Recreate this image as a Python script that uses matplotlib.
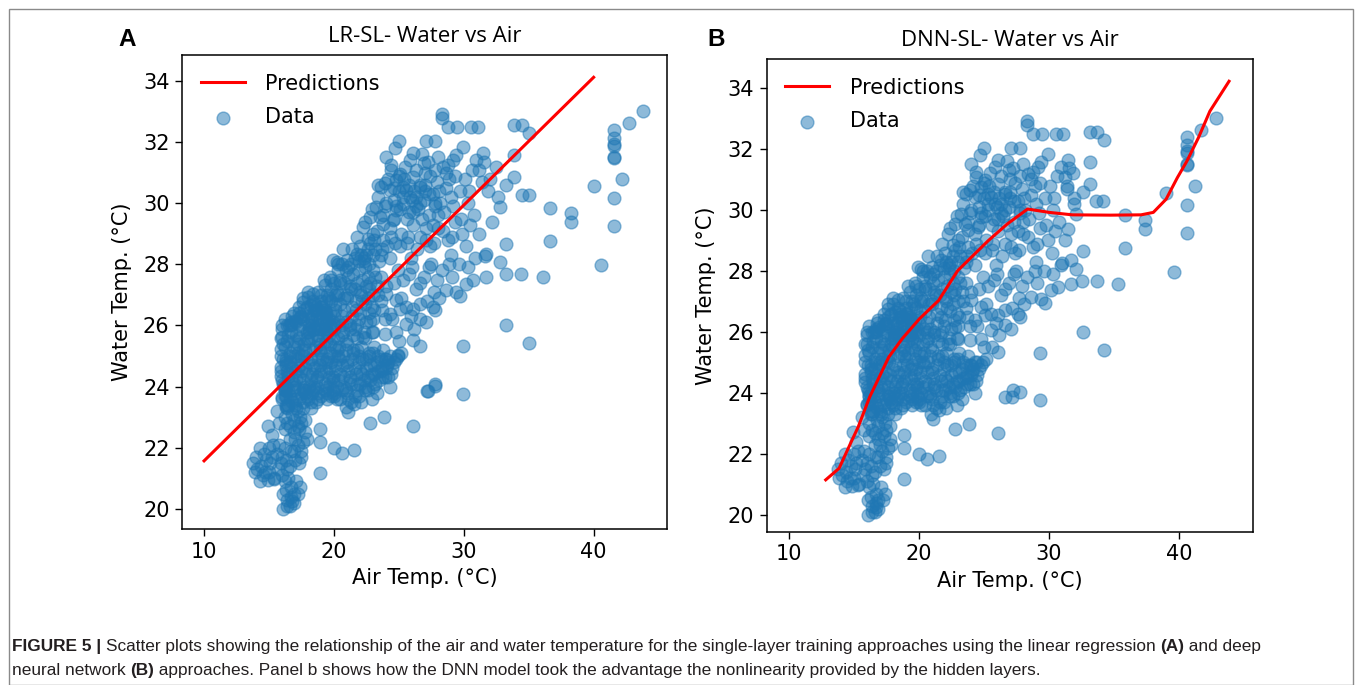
import matplotlib
matplotlib.use("Agg")
import matplotlib.pyplot as plt
from matplotlib import font_manager
from matplotlib.patches import Rectangle

# ---------------- data ----------------
# lower-left blob and bottom of the vertical column
air_low = [13.8, 13.9, 14.1, 14.3, 14.5, 14.3, 14.6, 14.8, 15.0, 15.2, 15.0, 15.4, 15.6, 15.9, 16.0,
           15.35, 16.4, 16.2, 16.7, 17.0, 17.3, 17.5, 17.0, 17.3, 17.6, 17.8, 17.9, 17.8, 16.1, 16.1,
           16.75, 17.26, 16.4, 16.7, 16.6, 16.9, 16.3, 17.1, 16.5, 15.6, 14.96, 16.2, 16.4, 16.2, 16.6,
           16.8, 16.5, 17.1, 17.4, 16.3,
           14.0, 14.4, 14.7, 14.9, 15.1, 15.3, 15.7, 15.8, 16.0, 16.3, 16.6, 16.9, 17.2, 17.5, 16.6,
           16.9, 17.2, 16.4, 16.8, 17.6, 17.9, 16.2, 16.7, 16.9, 16.4, 16.2, 17.4, 15.2, 15.8]
water_low = [21.5, 21.2, 21.3, 20.9, 21.1, 22.0, 21.8, 21.6, 22.0, 21.7, 21.2, 21.0, 21.8, 21.5, 21.1,
             20.97, 21.3, 22.0, 21.9, 21.6, 21.5, 21.7, 22.3, 22.6, 22.2, 22.5, 22.3, 22.9, 20.48, 20.0,
             20.25, 20.48, 20.3, 20.4, 20.1, 20.2, 20.6, 20.9, 21.0, 23.2, 22.72, 22.6, 22.8, 23.0, 22.7,
             23.1, 23.4, 23.3, 23.0, 23.7,
             21.7, 21.4, 21.2, 20.95, 21.5, 22.1, 21.3, 22.1, 21.7, 21.6, 21.4, 21.9, 22.1, 21.9, 22.3,
             22.9, 22.7, 23.3, 23.5, 23.3, 23.7, 20.9, 20.7, 20.5, 20.1, 23.9, 20.7, 22.4, 22.8]

# scattered points below the main cloud
air_spread = [18.9, 18.9, 18.9, 19.99, 20.6, 21.58, 21.09, 21.58, 20.95, 22.79, 23.88, 26.07, 18.2, 19.5, 20.0, 27.2, 27.8]
water_spread = [21.17, 22.61, 22.2, 22.0, 21.83, 21.93, 23.16, 23.43, 23.32, 22.81, 22.99, 22.7, 23.3, 23.6, 23.7, 23.87, 24.03]

# dense core
air_core = [16.02, 15.89, 15.89, 15.89, 16.16, 16.02, 16.3, 16.57, 16.98, 17.39, 17.67, 18.21, 18.49,
            16.2, 16.5, 16.3, 16.6, 16.4, 16.7, 16.9, 17.0, 17.2, 16.9, 17.3, 17.1, 17.5, 17.6, 17.8,
            17.5, 17.7, 17.9, 17.6, 18.1, 18.3, 18.0, 18.4, 18.2, 18.5, 18.3, 18.8, 18.7, 18.9, 19.0,
            18.8, 19.1, 18.9, 19.3, 19.4, 19.5, 19.2, 19.6, 19.4, 19.7, 16.0, 16.1, 16.0, 15.9, 16.2,
            17.3, 18.0, 18.6, 19.0, 17.0,
            16.0, 16.3, 16.6, 16.1, 16.4, 16.2, 16.5, 16.8, 16.6, 16.9, 17.1, 17.0, 17.2, 17.4, 17.3,
            17.5, 17.7, 17.8, 18.0, 18.2, 18.1, 18.4, 18.6, 18.5, 18.7, 18.9, 19.1, 19.2, 19.0, 19.4,
            19.3, 19.6, 19.8, 19.7, 19.9, 20.1, 15.9, 15.9, 16.0, 16.3, 16.8, 17.6, 18.3, 18.8, 17.2,
            17.5, 16.9, 17.7, 18.5, 19.5, 20.0, 20.3, 20.6, 16.7, 17.9,
            16.1, 16.3, 16.5, 16.7, 16.9, 17.1, 17.3, 17.5, 17.7, 17.9, 18.1, 18.3, 18.5, 18.7, 18.9,
            19.1, 19.3, 19.5, 16.2, 16.4, 16.6, 16.8, 17.0, 17.2, 17.4, 17.6, 17.8, 18.0, 18.2, 18.4,
            18.6, 18.8, 19.0, 19.2, 19.4, 19.6, 16.3, 16.9, 17.4, 17.9, 18.4, 18.9, 19.4, 19.9, 17.0,
            17.6, 18.2, 18.8, 16.5, 17.2]
water_core = [25.62, 25.24, 24.63, 24.36, 24.03, 23.65, 23.32, 26.0, 26.16, 26.27, 26.49, 26.66, 26.71,
              23.9, 24.3, 24.7, 25.1, 25.5, 25.8, 24.0, 24.5, 24.9, 25.3, 25.6, 26.1, 23.8, 24.2, 24.6,
              25.0, 25.4, 25.8, 26.2, 24.0, 24.4, 24.8, 25.2, 25.6, 25.9, 26.3, 23.8, 24.3, 24.7, 25.1,
              25.5, 25.9, 26.2, 24.1, 24.5, 24.9, 25.3, 25.7, 26.0, 26.4, 24.2, 24.9, 25.9, 24.5, 26.2,
              23.6, 23.6, 23.5, 23.7, 23.4,
              23.6, 23.4, 23.7, 24.1, 24.5, 25.3, 25.7, 26.3, 24.8, 23.9, 24.2, 25.0, 25.4, 25.9, 26.4,
              24.5, 24.0, 25.2, 25.5, 24.2, 26.0, 24.7, 25.3, 26.5, 25.7, 24.4, 24.9, 26.1, 26.6, 25.5,
              23.9, 24.3, 24.8, 25.4, 26.0, 26.5, 25.0, 25.6, 26.0, 24.0, 24.6, 23.5, 23.8, 23.6, 23.2,
              22.8, 22.5, 23.9, 24.0, 23.8, 25.0, 25.6, 26.0, 26.1, 26.6,
              25.4, 24.9, 24.4, 26.0, 24.1, 25.7, 24.3, 26.3, 25.0, 24.4, 25.8, 26.1, 24.6, 24.0, 25.4,
              26.4, 25.9, 24.0, 23.7, 26.0, 25.0, 24.2, 25.5, 24.6, 26.0, 25.2, 23.8, 26.3, 24.9, 25.9,
              24.2, 26.0, 24.5, 25.7, 24.8, 26.2, 24.8, 26.4, 24.7, 25.6, 23.9, 25.2, 26.4, 24.2, 23.6,
              23.9, 23.5, 24.9, 23.9, 25.1]

# upper diagonal lobe
air_lobe = [17.3, 17.65, 18.03, 18.41, 19.3, 19.95, 20.2, 21.0, 21.74, 18.6, 19.0, 19.3, 19.6, 19.8,
            20.1, 20.3, 20.5, 20.0, 20.4, 20.8, 21.0, 21.2, 21.5, 20.9, 21.4, 21.7, 22.0, 22.2, 22.4,
            22.0, 22.6, 22.8, 23.0, 22.3, 21.6, 20.7, 19.9, 20.2, 21.0, 21.8, 22.5, 23.1, 23.4, 22.9,
            17.6, 18.0, 18.4, 18.8, 19.2, 19.5, 19.7, 20.0, 20.3, 20.6, 20.8, 21.1, 21.3, 21.6, 21.9,
            22.1, 22.4, 22.7, 23.2, 23.5, 21.2, 21.9, 22.3, 20.5, 19.9, 19.4, 18.7, 18.1, 20.9, 21.5,
            23.6, 24.0, 23.9, 22.7, 20.7, 21.4,
            18.2, 18.6, 19.0, 19.4, 19.8, 20.2, 20.6, 21.0, 21.4, 21.8, 22.2, 22.6, 23.0, 18.9, 19.3,
            19.7, 20.1, 20.5, 20.9, 21.3, 21.7, 22.1, 22.5, 22.9, 23.3, 19.5, 20.0, 20.6, 21.2, 21.8,
            22.4, 23.0, 20.3, 21.1, 21.9, 22.7, 19.1, 19.8, 20.8, 21.6]
water_lobe = [26.6, 26.76, 26.93, 27.04, 27.31, 28.13, 28.08, 28.13, 28.35, 26.5, 26.8, 26.5, 26.9, 27.2,
              26.7, 27.0, 27.4, 26.3, 26.1, 26.5, 26.9, 27.3, 27.7, 27.8, 26.3, 26.8, 27.1, 27.5, 27.9,
              26.4, 26.9, 27.4, 27.8, 28.2, 25.9, 25.8, 25.6, 25.2, 25.4, 25.6, 26.1, 26.5, 27.0, 25.8,
              26.9, 27.1, 26.8, 27.1, 27.5, 27.0, 27.6, 27.4, 27.8, 28.0, 26.9, 27.6, 28.0, 27.2, 27.8,
              28.3, 26.7, 27.2, 27.6, 28.1, 26.0, 26.2, 25.8, 26.7, 26.1, 26.8, 26.3, 25.9, 25.5, 25.7,
              26.8, 27.3, 26.2, 26.4, 28.5, 28.5,
              26.2, 26.6, 27.0, 26.2, 26.8, 27.1, 26.3, 27.0, 26.6, 27.4, 26.8, 27.6, 26.2, 25.9, 26.4,
              26.0, 27.0, 27.5, 26.1, 27.2, 26.5, 27.0, 27.3, 26.6, 27.3, 25.8, 25.9, 25.7, 25.9, 26.0,
              25.6, 27.0, 28.0, 27.9, 28.1, 28.0, 26.6, 27.5, 27.4, 28.2]

# lower horizontal band
air_band = [19.8, 20.2, 20.5, 20.1, 20.7, 20.9, 21.2, 21.0, 21.5, 21.6, 21.8, 22.0, 22.2, 22.4, 22.6,
            22.8, 23.0, 23.2, 23.4, 23.6, 23.9, 24.1, 24.3, 23.8, 24.6, 22.9, 21.3, 20.5, 19.9, 19.7,
            20.4, 22.1, 23.3, 24.4, 24.9, 25.2,
            19.9, 20.3, 20.6, 20.8, 21.1, 21.4, 21.7, 21.9, 22.3, 22.5, 22.7, 23.1, 23.3, 23.5, 23.7,
            24.0, 24.2, 24.5, 24.8, 20.2, 21.0, 21.9, 22.6, 20.9, 21.8, 23.1, 19.6, 20.0, 24.3, 22.1,
            19.7, 20.1, 20.4, 20.7, 21.0, 21.3, 21.6, 21.9, 22.2, 22.5, 22.8, 23.1, 23.4, 23.7, 24.0,
            20.0, 20.6, 21.2, 21.8, 22.4, 23.0, 23.6, 24.2, 20.3, 21.5, 22.7, 23.9, 21.1, 22.0, 22.9]
water_band = [23.7, 24.0, 24.4, 24.7, 25.0, 23.9, 24.3, 24.7, 25.1, 23.7, 24.1, 24.5, 24.9, 23.9, 24.3,
              24.7, 25.1, 24.1, 24.5, 24.9, 24.3, 24.7, 25.0, 25.2, 24.8, 23.6, 23.5, 23.6, 24.3, 25.1,
              25.3, 25.3, 23.8, 24.4, 25.0, 25.1,
              23.9, 24.2, 24.7, 24.0, 24.5, 24.9, 24.4, 24.8, 24.2, 24.6, 25.0, 24.4, 24.8, 24.2, 24.6,
              24.9, 24.3, 24.6, 24.9, 23.6, 23.8, 23.7, 23.9, 25.2, 25.2, 25.3, 24.6, 25.3, 24.0, 23.5,
              24.1, 24.5, 24.9, 24.3, 24.8, 24.1, 24.6, 25.0, 24.4, 24.9, 24.2, 24.7, 25.0, 24.3, 24.6,
              23.8, 23.9, 24.2, 23.9, 24.0, 24.0, 24.5, 24.8, 25.0, 25.2, 25.1, 24.9, 23.6, 24.1, 24.4]

# upper band
air_upper = [23.27, 22.76, 22.25, 23.01, 22.63, 23.53, 23.78, 24.55, 24.81, 25.31, 25.83, 25.57, 23.91,
             23.66, 24.29, 24.81, 25.06, 25.31, 26.08, 26.59, 26.34, 24.42, 24.42, 25.83, 27.23, 26.08,
             25.0, 27.1, 27.75, 28.29, 28.3, 28.76, 29.44, 30.54, 31.09, 29.92, 29.41, 29.15, 28.77,
             28.38, 31.45, 31.58, 30.94, 31.2, 22.0, 22.5, 23.2, 23.8, 24.3, 24.7, 25.2, 25.6, 26.1,
             26.5, 26.9, 27.3, 27.6, 27.9, 28.2, 28.6, 29.0, 29.3, 29.7, 30.1, 27.0, 27.8, 26.6, 27.4,
             28.0, 25.9, 24.9, 23.6, 26.8, 30.3, 30.8, 31.4, 30.6, 31.9,
             21.8, 22.4, 22.9, 23.4, 23.9, 24.2, 24.6, 25.0, 25.4, 25.8, 26.2, 26.6, 27.0, 27.4, 27.8,
             28.1, 28.5, 28.9, 29.2, 23.0, 23.7, 24.4, 25.1, 25.7, 26.4, 27.1, 27.7, 28.4, 29.1, 29.8,
             30.4, 25.5, 26.3, 26.9, 28.0, 28.6, 24.0, 24.7,
             22.3, 22.8, 23.3, 23.8, 24.3, 24.8, 25.3, 25.8, 26.3, 26.8, 27.3, 27.8, 22.6, 23.1, 23.6,
             24.1, 24.6, 25.1, 25.6, 26.1, 26.6, 27.1, 27.6, 24.0, 25.0, 26.0, 27.0, 28.0, 23.4, 24.6]
water_upper = [29.88, 29.55, 29.22, 29.0, 28.84, 29.55, 29.33, 29.44, 29.77, 29.99, 30.2, 30.43, 30.65,
               30.53, 30.43, 30.75, 30.97, 30.53, 30.86, 30.53, 30.2, 31.25, 31.08, 31.41, 31.36, 31.63,
               32.03, 32.03, 32.03, 32.92, 32.8, 32.5, 32.5, 32.5, 32.5, 31.85, 31.57, 31.41, 31.25,
               31.19, 31.63, 31.36, 31.41, 31.08, 28.6, 28.3, 28.5, 28.8, 28.2, 28.7, 29.0, 29.5, 29.3,
               29.8, 30.1, 29.6, 30.3, 30.7, 30.0, 30.5, 30.2, 30.9, 30.4, 30.8, 31.0, 31.1, 28.9, 28.6,
               29.2, 28.2, 27.8, 27.6, 31.6, 30.0, 29.6, 30.7, 31.1, 30.4,
               28.9, 29.4, 29.8, 30.2, 29.9, 30.8, 30.1, 30.4, 30.8, 29.7, 30.4, 30.0, 30.6, 30.9, 29.9,
               30.4, 29.7, 30.8, 29.9, 28.3, 28.5, 28.9, 28.6, 28.9, 28.5, 29.2, 28.7, 29.1, 28.9, 29.5,
               30.4, 31.2, 31.1, 31.3, 31.5, 31.0, 31.5, 31.8,
               28.1, 28.7, 29.1, 29.6, 29.2, 29.9, 30.2, 30.6, 29.9, 29.5, 30.3, 30.0, 28.5, 28.8, 28.3,
               28.6, 29.5, 29.8, 28.7, 29.7, 30.6, 28.8, 29.3, 30.0, 30.9, 30.1, 30.4, 29.6, 30.6, 30.5]

# right-hand spread
air_right = [31.7, 31.7, 30.7, 30.18, 29.41, 28.64, 27.6, 26.6, 25.57, 24.8, 24.04, 27.1, 27.75, 26.59,
             25.57, 24.81, 23.91, 23.01, 22.25, 22.76, 24.3, 25.06, 26.08, 25.3, 26.0, 26.9, 27.5, 28.3,
             29.0, 29.6, 30.2, 30.9, 28.8, 29.9, 27.7, 26.3, 28.1, 29.3, 30.5, 31.2,
             24.5, 25.2, 25.9, 26.6, 27.2, 27.9, 29.1, 29.7, 30.3, 25.8, 24.6, 23.7, 28.9, 27.3, 26.2, 25.0]
water_right = [28.35, 27.58, 27.48, 27.37, 27.09, 27.15, 26.6, 26.71, 26.6, 26.82, 27.04, 26.11, 26.49, 26.22,
               26.05, 25.78, 25.73, 25.78, 25.62, 26.16, 26.38, 26.55, 26.55, 27.5, 27.9, 27.6, 28.0, 27.8,
               28.3, 28.0, 28.6, 28.2, 28.8, 29.0, 27.1, 27.2, 26.9, 29.4, 29.3, 29.0,
               26.2, 26.9, 26.3, 27.4, 26.8, 27.5, 27.6, 26.95, 27.9, 27.7, 27.4, 26.5, 28.0, 27.9, 25.9, 25.5]

# isolated points (air read separately in panel A and panel B)
air_out_a = [33.83, 34.46, 35.06, 41.55, 41.55, 41.55, 41.55, 41.55, 41.55, 42.73, 43.82, 40.0, 42.18, 41.55,
             41.55, 40.53, 36.64, 38.29, 38.29, 36.64, 36.07, 34.42, 33.27, 32.78, 31.63, 33.27, 32.78, 32.18,
             34.51, 35.06, 33.83, 33.27, 33.83, 29.92, 29.92, 27.75, 27.23, 33.27, 35.0, 24.93, 26.59, 26.08,
             32.5, 32.0, 32.6]
air_out_b = [33.12, 33.7, 34.2, 40.6, 40.6, 40.6, 40.6, 40.6, 40.6, 41.69, 42.81, 38.99, 41.19, 40.6,
             40.6, 39.58, 35.82, 37.37, 37.37, 35.82, 35.32, 33.7, 32.53, 32.09, 31.0, 32.62, 32.09, 31.5,
             33.61, 34.14, 33.14, 32.6, 33.14, 29.3, 29.3, 27.24, 26.65, 32.62, 34.2, 24.5, 26.1, 25.6,
             31.85, 31.37, 31.95]
water_out = [32.57, 32.57, 32.3, 32.39, 32.12, 31.93, 31.87, 31.52, 31.47, 32.61, 33.03, 30.57, 30.78, 30.17,
             29.26, 27.97, 29.85, 29.68, 29.37, 28.75, 27.58, 27.67, 27.67, 28.08, 28.26, 28.66, 29.86, 29.37,
             30.28, 30.28, 30.86, 30.59, 31.57, 25.32, 23.76, 24.09, 23.87, 26.0, 25.42, 25.02, 25.34, 25.51,
             31.2, 30.8, 30.2]

# prediction lines
lr_air = [10.0, 40.0]
lr_water = [21.57, 34.12]
dnn_air = [12.85, 13.88, 14.76, 15.35, 16.23, 16.96, 17.7, 18.73, 20.05, 21.52, 22.99, 25.33, 26.8, 28.36,
           30.03, 31.8, 34.73, 37.08, 38.02, 39.0, 39.87, 40.6, 41.49, 42.37, 43.84]
dnn_water = [21.15, 21.53, 22.35, 22.89, 23.87, 24.52, 25.18, 25.78, 26.43, 27.03, 28.01, 28.99, 29.54, 30.03,
             29.92, 29.84, 29.83, 29.84, 29.92, 30.35, 31.06, 31.6, 32.37, 33.24, 34.22]

x_ticks = [10, 20, 30, 40]
y_ticks = [20, 22, 24, 26, 28, 30, 32, 34]
titles = ["LR-SL- Water vs Air", "DNN-SL- Water vs Air"]
panel_labels = ["A", "B"]

air_cloud = air_low + air_spread + air_core + air_lobe + air_band + air_upper + air_right
water_cloud = water_low + water_spread + water_core + water_lobe + water_band + water_upper + water_right
air_a = air_cloud + air_out_a
air_b = air_cloud + air_out_b
water_all = water_cloud + water_out

# ---------------- fonts ----------------
def has_font(name):
    try:
        font_manager.findfont(font_manager.FontProperties(family=name), fallback_to_default=False)
        return True
    except Exception:
        return False

caption_font = "Liberation Sans Narrow" if has_font("Liberation Sans Narrow") else "Liberation Sans"
caption_size = 14.6 if caption_font == "Liberation Sans Narrow" else 12.4

# ---------------- figure ----------------
W, H = 1355, 685
fig = plt.figure(figsize=(W / 100, H / 100), dpi=100)
fig.patch.set_facecolor("white")

def px_axes(x0, y0, x1, y1):
    return fig.add_axes([x0 / W, 1 - y1 / H, (x1 - x0) / W, (y1 - y0) / H])

axA = px_axes(182, 55, 667, 529)
axB = px_axes(766.5, 59, 1252.6, 531.7)

FS = 15
blue = "#1f77b4"
for ax, title, xs, (lx, ly), ylim in [
    (axA, titles[0], air_a, (lr_air, lr_water), (19.34, 34.85)),
    (axB, titles[1], air_b, (dnn_air, dnn_water), (19.45, 34.95)),
]:
    ax.plot(lx, ly, color="red", lw=2.2, label="Predictions")
    ax.scatter(xs, water_all, s=85, color=blue, alpha=0.5, label="Data", linewidths=1.0)
    ax.set_xlim(8.3, 45.65)
    ax.set_ylim(*ylim)
    ax.set_xticks(x_ticks)
    ax.set_yticks(y_ticks)
    ax.tick_params(labelsize=FS, length=5, width=1.0, pad=4)
    for sp in ax.spines.values():
        sp.set_linewidth(1.1)
    ax.set_xlabel("Air Temp. (°C)", fontsize=FS, labelpad=5)
    ax.set_ylabel("Water Temp. (°C)", fontsize=FS, labelpad=8)
    ax.set_title(title, fontsize=16, family="Open Sans", pad=9)
    ax.legend(loc="upper left", frameon=False, fontsize=FS, handlelength=2.1,
              handletextpad=1.0, borderaxespad=0.5, labelspacing=0.65)

fig.text(127 / W, 1 - 40 / H, panel_labels[0], fontsize=17.5, fontweight="bold",
         family="Liberation Sans", ha="center", va="center")
fig.text(716 / W, 1 - 40 / H, panel_labels[1], fontsize=17.5, fontweight="bold",
         family="Liberation Sans", ha="center", va="center")

# border around the figure
fig.patches.append(Rectangle((9 / W, 0), (1353 - 9) / W, 1 - 9 / H, transform=fig.transFigure,
                             fill=False, edgecolor="#8a8a8a", lw=1.0))

# ---------------- caption ----------------
cap_line1 = [("FIGURE 5 | ", "bold"),
             ("Scatter plots showing the relationship of the air and water temperature for the single-layer "
              "training approaches using the linear regression ", "normal"),
             ("(A)", "bold"), (" and deep", "normal")]
cap_line2 = [("neural network ", "normal"), ("(B)", "bold"),
             (" approaches. Panel b shows how the DNN model took the advantage the nonlinearity provided by "
              "the hidden layers.", "normal")]

renderer = fig.canvas.get_renderer()

def draw_line(pieces, x0, y):
    x = x0
    for txt, wt in pieces:
        t = fig.text(x / W, 1 - y / H, txt, fontsize=caption_size, fontweight=wt,
                     family=caption_font, color="#231f20", va="baseline", ha="left")
        bb = t.get_window_extent(renderer=renderer)
        x += bb.width

draw_line(cap_line1, 12, 651)
draw_line(cap_line2, 12, 675)

fig.savefig("out.png", dpi=100, facecolor="white")
